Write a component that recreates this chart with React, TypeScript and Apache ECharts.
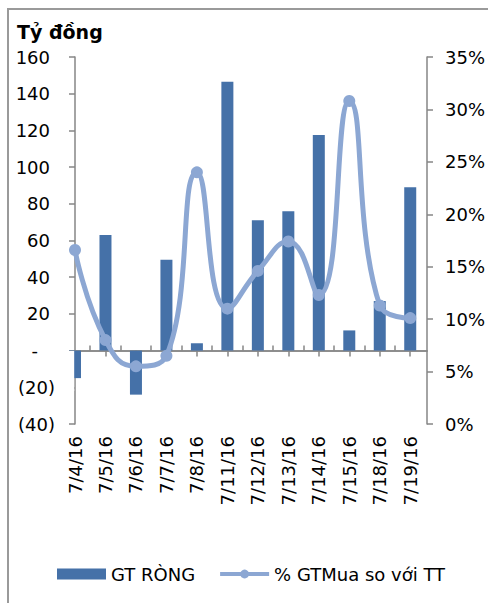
import React, { useEffect, useRef } from "react";
import * as echarts from "echarts";

const categories = ["7/4/16", "7/5/16", "7/6/16", "7/7/16", "7/8/16", "7/11/16", "7/12/16", "7/13/16", "7/14/16", "7/15/16", "7/18/16", "7/19/16"];
const netValues = [-15, 63, -24, 49.5, 4, 146.5, 71, 76, 117.5, 11, 27, 89];
const pctValues = [16.6, 8.0, 5.5, 6.5, 24.0, 11.0, 14.6, 17.4, 12.3, 30.8, 11.3, 10.1];
const leftTicks = { min: -40, max: 160, interval: 20 };
const rightTicks = { min: 0, max: 0.35, interval: 0.05 };

const FONT = "DejaVu Sans";
const BAR_COLOR = "#4571A8";
const LINE_COLOR = "#8CA7D3";
const AXIS_COLOR = "#868686";

export default function App() {
  const ref = useRef<HTMLDivElement>(null);
  useEffect(() => {
    if (!ref.current) return;
    const chart = echarts.init(ref.current, undefined, { renderer: "svg" });
    const idx = categories.map((_, i) => i);
    const minorIdx = categories.slice(0, -1).map((_, i) => i + 0.5);
    const xMax = 11.55;
    const gridLeft = 75;
    chart.setOption({
      animation: false,
      backgroundColor: "#fff",
      textStyle: { fontFamily: FONT },
      title: {
        text: "Tỷ đồng",
        left: 12,
        top: 17,
        textStyle: { fontFamily: FONT, fontSize: 19, fontWeight: "bold", color: "#000" },
      },
      graphic: [
        {
          type: "rect",
          shape: { x: 8, y: 9, width: 700, height: 800 },
          style: { fill: "none", stroke: "#9a9a9a", lineWidth: 2 },
          silent: true,
          z: 0,
        },
        {
          // hides the part of the first bar that falls left of the value axis (plot-area clip)
          type: "rect",
          shape: { x: gridLeft - 14, y: 351, width: 13.2, height: 40 },
          style: { fill: "#fff" },
          silent: true,
          z: 10,
        },
      ],
      legend: {
        left: 57,
        top: 565,
        padding: 0,
        itemWidth: 49,
        itemHeight: 11,
        itemGap: 23,
        textStyle: { fontFamily: FONT, fontSize: 18, color: "#000" },
        data: [
          { name: "GT RÒNG", icon: "rect" },
          { name: "% GTMua so với TT", lineStyle: { width: 4, color: LINE_COLOR } },
        ],
      },
      grid: { left: gridLeft, right: 60, top: 57, bottom: 179, containLabel: false },
      xAxis: [
        {
          type: "value",
          min: 0,
          max: xMax,
          position: "bottom",
          splitLine: { show: false },
          axisLine: { show: true, onZero: true, onZeroAxisIndex: 0, lineStyle: { color: AXIS_COLOR, width: 1.5 } },
          axisTick: { show: true, customValues: idx, length: 6, inside: false, lineStyle: { color: AXIS_COLOR, width: 1.5 } },
          axisLabel: { show: false },
        },
        {
          type: "value",
          min: 0,
          max: xMax,
          position: "bottom",
          splitLine: { show: false },
          axisLine: { show: true, onZero: true, onZeroAxisIndex: 0, lineStyle: { color: AXIS_COLOR, width: 1.5 } },
          axisTick: { show: true, customValues: minorIdx, length: 5, inside: true, lineStyle: { color: AXIS_COLOR, width: 1.5 } },
          axisLabel: { show: false },
        },
        {
          type: "value",
          min: 0,
          max: xMax,
          position: "bottom",
          splitLine: { show: false },
          axisLine: { show: false, onZero: false },
          axisTick: { show: false },
          axisLabel: {
            show: true,
            customValues: idx,
            rotate: 90,
            margin: 12,
            fontFamily: FONT,
            fontSize: 18,
            color: "#000",
            formatter: (v: number) => categories[Math.round(v)] ?? "",
          },
        },
      ],
      yAxis: [
        {
          type: "value",
          position: "left",
          min: leftTicks.min,
          max: leftTicks.max,
          interval: leftTicks.interval,
          splitLine: { show: false },
          axisLine: { show: true, onZero: false, lineStyle: { color: AXIS_COLOR, width: 1.5 } },
          axisTick: { show: true, length: 6, lineStyle: { color: AXIS_COLOR, width: 1.5 } },
          axisLabel: {
            margin: 20,
            formatter: (v: number) => {
              if (v < 0) return `{n|(${-v})}`;
              if (v === 0) return `{n|-}{d| }`;
              return `{n|${v}}{p| }`;
            },
            rich: {
              n: { fontFamily: FONT, fontSize: 18, color: "#000" },
              p: { width: 5, fontSize: 18 },
              d: { width: 17, fontSize: 18 },
            },
          },
        },
        {
          type: "value",
          position: "right",
          min: rightTicks.min,
          max: rightTicks.max,
          interval: rightTicks.interval,
          splitLine: { show: false },
          axisLine: { show: true, onZero: false, lineStyle: { color: AXIS_COLOR, width: 1.5 } },
          axisTick: { show: true, length: 6, lineStyle: { color: AXIS_COLOR, width: 1.5 } },
          axisLabel: {
            margin: 18,
            fontFamily: FONT,
            fontSize: 18,
            color: "#000",
            formatter: (v: number) => `${Math.round(v * 100)}%`,
          },
        },
      ],
      series: [
        {
          name: "GT RÒNG",
          type: "bar",
          xAxisIndex: 0,
          yAxisIndex: 0,
          barWidth: 12,
          itemStyle: { color: BAR_COLOR },
          data: netValues.map((v, i) => [i, v]),
        },
        {
          name: "% GTMua so với TT",
          type: "line",
          xAxisIndex: 0,
          yAxisIndex: 1,
          smooth: 0.5,
          clip: false,
          z: 12,
          symbol: "circle",
          symbolSize: 12,
          lineStyle: { color: LINE_COLOR, width: 5 },
          itemStyle: { color: LINE_COLOR },
          data: pctValues.map((v, i) => [i, v / 100]),
        },
      ],
    });
    return () => chart.dispose();
  }, []);
  return (
    <div
      ref={ref}
      style={{ position: "fixed", left: 0, top: 0, width: 488, height: 603, background: "#fff" }}
    />
  );
}
